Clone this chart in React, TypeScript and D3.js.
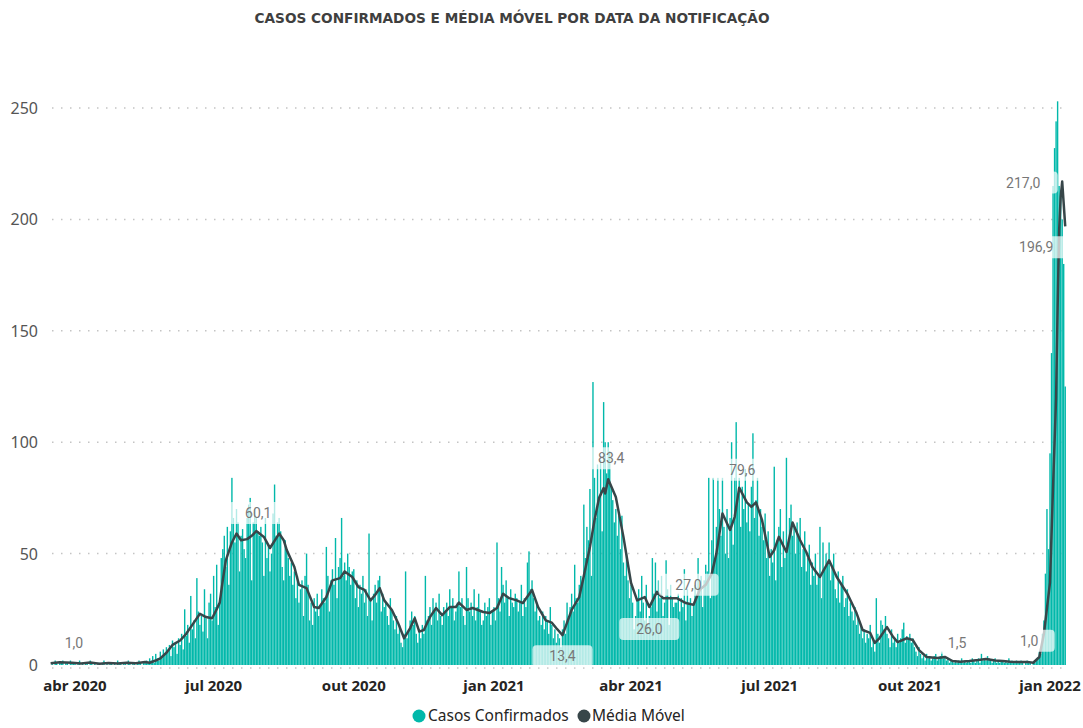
import * as d3 from "d3";

// daily confirmed cases, one array per month (first month starts on the 16th)
const monthStarts = [
  "2020-03-16", "2020-04-01", "2020-05-01", "2020-06-01", "2020-07-01", "2020-08-01",
  "2020-09-01", "2020-10-01", "2020-11-01", "2020-12-01", "2021-01-01", "2021-02-01",
  "2021-03-01", "2021-04-01", "2021-05-01", "2021-06-01", "2021-07-01", "2021-08-01",
  "2021-09-01", "2021-10-01", "2021-11-01", "2021-12-01", "2022-01-01",
];

const mar20 = [0, 1, 0, 2, 1, 0, 1, 1, 2, 0, 1, 1, 0, 2, 1, 1];
const apr20 = [1, 0, 1, 2, 0, 1, 0, 1, 1, 0, 2, 1, 0, 1, 0, 1, 1, 0, 1, 2, 0, 1, 0, 1, 1, 0, 1, 0, 2, 1];
const may20 = [1, 0, 1, 1, 0, 2, 1, 0, 1, 1, 0, 1, 2, 1, 0, 1, 1, 2, 1, 3, 2, 4, 1, 5, 3, 2, 6, 4, 7, 5, 8];
const jun20 = [6, 9, 4, 11, 8, 10, 5, 12, 9, 14, 7, 25, 13, 18, 10, 31, 16, 20, 12, 39, 24, 18, 22, 15, 34, 21, 12, 28, 32, 20];
const jul20 = [40, 26, 45, 18, 30, 48, 52, 58, 44, 62, 36, 60, 84, 66, 55, 70, 64, 42, 58, 61, 52, 48, 66, 72, 75, 38, 64, 70, 66, 60, 58];
const aug20 = [62, 55, 40, 66, 48, 54, 42, 50, 68, 81, 58, 64, 66, 60, 44, 38, 56, 52, 48, 40, 46, 36, 42, 30, 40, 28, 34, 38, 22, 40, 50];
const sep20 = [36, 20, 28, 18, 30, 24, 32, 22, 26, 34, 30, 28, 53, 40, 24, 38, 43, 36, 57, 30, 44, 48, 66, 40, 46, 38, 50, 44, 36, 42];
const oct20 = [43, 30, 38, 26, 36, 32, 40, 28, 34, 22, 59, 30, 20, 32, 36, 28, 38, 40, 24, 32, 26, 28, 22, 18, 30, 24, 20, 16, 22, 14, 18];
const nov20 = [10, 8, 14, 42, 12, 16, 20, 24, 18, 22, 14, 10, 16, 12, 18, 14, 40, 20, 22, 26, 18, 30, 24, 28, 20, 32, 22, 18, 26, 24];
const dec20 = [28, 22, 34, 26, 30, 20, 24, 28, 42, 26, 30, 22, 18, 44, 30, 24, 28, 22, 34, 20, 26, 32, 24, 18, 20, 28, 22, 26, 30, 18, 24];
const jan21 = [26, 20, 55, 30, 24, 44, 36, 28, 38, 30, 22, 34, 28, 26, 32, 30, 24, 28, 36, 22, 30, 26, 46, 51, 34, 38, 30, 24, 28, 20, 22];
const feb21 = [18, 24, 16, 22, 20, 14, 26, 18, 12, 16, 10, 14, 12, 8, 16, 20, 14, 28, 22, 26, 32, 24, 45, 30, 28, 36, 40, 38];
const mar21 = [72, 48, 62, 56, 79, 40, 127, 84, 66, 90, 74, 92, 60, 118, 100, 86, 100, 96, 80, 74, 64, 70, 58, 67, 52, 67, 46, 40, 50, 38, 30];
const apr21 = [36, 28, 16, 22, 30, 34, 24, 40, 28, 20, 36, 18, 22, 26, 48, 32, 46, 24, 38, 30, 40, 22, 28, 47, 34, 18, 36, 30, 26, 28];
const may21 = [28, 32, 24, 30, 26, 43, 20, 34, 28, 30, 22, 27, 36, 30, 48, 34, 40, 26, 38, 45, 42, 84, 30, 56, 84, 48, 62, 84, 70, 58, 84];
const jun21 = [62, 50, 70, 48, 66, 100, 54, 84, 109, 76, 84, 62, 80, 70, 88, 64, 72, 60, 80, 104, 66, 74, 84, 58, 70, 62, 56, 68, 48, 60];
const jul21 = [40, 52, 46, 89, 38, 56, 62, 70, 44, 60, 48, 93, 54, 66, 72, 58, 62, 50, 64, 58, 66, 44, 52, 60, 42, 48, 54, 36, 46, 40, 50];
const aug21 = [36, 40, 62, 30, 55, 44, 50, 46, 55, 38, 44, 50, 34, 30, 42, 28, 36, 40, 26, 30, 34, 22, 28, 24, 20, 26, 18, 22, 14, 18, 12];
const sep21 = [16, 10, 14, 12, 18, 8, 12, 6, 30, 14, 10, 20, 18, 16, 22, 14, 12, 8, 16, 10, 12, 8, 14, 10, 12, 16, 19, 10, 13, 12];
const oct21 = [14, 10, 12, 8, 6, 4, 8, 5, 3, 4, 2, 5, 3, 4, 2, 3, 4, 5, 2, 3, 4, 6, 3, 4, 2, 3, 1, 2, 2, 1, 2];
const nov21 = [1, 2, 1, 3, 1, 2, 1, 2, 2, 1, 3, 2, 1, 2, 3, 1, 5, 2, 3, 2, 4, 3, 2, 1, 2, 3, 1, 2, 1, 2];
const dec21 = [2, 1, 2, 1, 3, 1, 2, 1, 1, 2, 1, 1, 2, 1, 0, 1, 2, 1, 1, 0, 1, 1, 2, 3, 6, 5, 14, 20, 41, 70, 52];
const jan22 = [95, 140, 215, 232, 244, 253, 215, 213, 200, 180, 125];

const casesByMonth = [
  mar20, apr20, may20, jun20, jul20, aug20, sep20, oct20, nov20, dec20,
  jan21, feb21, mar21, apr21, may21, jun21, jul21, aug21, sep21, oct21, nov21, dec21,
  jan22,
];

// moving average
const maDates = [
  "2020-03-16", "2020-03-22", "2020-03-30", "2020-04-05", "2020-04-11", "2020-04-17", "2020-04-23",
  "2020-04-29", "2020-05-05", "2020-05-11", "2020-05-17", "2020-05-20", "2020-05-24", "2020-05-27",
  "2020-05-31", "2020-06-04", "2020-06-09", "2020-06-13", "2020-06-18", "2020-06-22", "2020-06-26",
  "2020-06-30", "2020-07-03", "2020-07-05", "2020-07-07", "2020-07-09", "2020-07-13", "2020-07-16",
  "2020-07-19", "2020-07-23", "2020-07-26", "2020-07-29", "2020-08-03", "2020-08-07", "2020-08-13",
  "2020-08-16", "2020-08-18", "2020-08-23", "2020-08-26", "2020-08-31", "2020-09-05", "2020-09-08",
  "2020-09-13", "2020-09-17", "2020-09-22", "2020-09-25", "2020-09-30", "2020-10-04", "2020-10-08",
  "2020-10-12", "2020-10-15", "2020-10-18", "2020-10-21", "2020-10-26", "2020-10-30", "2020-11-03",
  "2020-11-07", "2020-11-10", "2020-11-13", "2020-11-16", "2020-11-20", "2020-11-24", "2020-11-28",
  "2020-12-03", "2020-12-07", "2020-12-09", "2020-12-14", "2020-12-18", "2020-12-25", "2020-12-29",
  "2021-01-03", "2021-01-07", "2021-01-11", "2021-01-16", "2021-01-20", "2021-01-26", "2021-01-30",
  "2021-02-04", "2021-02-08", "2021-02-11", "2021-02-15", "2021-02-18", "2021-02-21", "2021-02-26",
  "2021-03-01", "2021-03-05", "2021-03-08", "2021-03-11", "2021-03-14", "2021-03-15", "2021-03-17",
  "2021-03-22", "2021-03-27", "2021-04-01", "2021-04-05", "2021-04-10", "2021-04-13", "2021-04-18",
  "2021-04-22", "2021-04-26", "2021-05-01", "2021-05-07", "2021-05-12", "2021-05-16", "2021-05-20",
  "2021-05-24", "2021-05-27", "2021-05-31", "2021-06-05", "2021-06-08", "2021-06-11", "2021-06-16",
  "2021-06-19", "2021-06-22", "2021-06-26", "2021-07-01", "2021-07-04", "2021-07-07", "2021-07-12",
  "2021-07-16", "2021-07-21", "2021-07-25", "2021-07-29", "2021-08-03", "2021-08-09", "2021-08-14",
  "2021-08-21", "2021-08-27", "2021-08-31", "2021-09-05", "2021-09-08", "2021-09-11", "2021-09-16",
  "2021-09-20", "2021-09-23", "2021-09-29", "2021-10-03", "2021-10-07", "2021-10-12", "2021-10-19",
  "2021-10-24", "2021-10-29", "2021-11-03", "2021-11-09", "2021-11-15", "2021-11-20", "2021-11-26",
  "2021-12-01", "2021-12-06", "2021-12-12", "2021-12-17", "2021-12-21", "2021-12-25", "2021-12-28",
  "2022-01-01", "2022-01-03", "2022-01-05", "2022-01-06", "2022-01-07", "2022-01-08", "2022-01-09",
  "2022-01-10", "2022-01-11",
];
const maValues = [
  0.8, 1.2, 1.0, 0.7, 1.1, 0.6, 0.9,
  0.7, 1.0, 0.8, 1.3, 1.0, 2.0, 3.0,
  5.5, 9, 11, 14, 19, 23, 21.5,
  21, 25, 28, 38, 47, 55, 59,
  56, 56.5, 58, 60.1, 57.5, 52.5, 59,
  56, 51.6, 44, 36, 34.5, 26, 25.6,
  30.5, 38, 39, 42, 39.5, 35, 33.7,
  29, 31.4, 34.5, 29, 24.7, 19, 12,
  16.6, 21, 15, 15.7, 21.5, 25.6, 22.4,
  26, 26, 28, 24.7, 25.6, 23.8, 23.3,
  25.6, 32, 30, 29, 27.8, 33.7, 26,
  20, 19, 16.5, 13.4, 19, 24.7, 30.5,
  40, 53, 65, 75, 79.4, 77, 83.4,
  75.4, 57.5, 36.8, 29, 30.5, 26, 32.8,
  30, 30, 30, 27.8, 27, 33.7, 36,
  41, 50, 68, 60.6, 66.4, 79.6, 73,
  71, 73, 65, 48.5, 51.6, 57.5, 50.7,
  64, 56, 50.7, 44, 39.5, 47, 39.5,
  32, 23.3, 15.7, 14.4, 9.9, 12, 17,
  12.6, 10.3, 12, 11.2, 6.7, 3.6, 3.1,
  3.6, 1.8, 1.5, 1.8, 2.2, 2.7, 2.0,
  1.8, 1.5, 1.3, 1.4, 1.0, 3.6, 14,
  37, 80, 120, 160, 195, 210, 217,
  207, 196.9,
];

// data labels shown on the moving average
const labelDates = [
  "2020-03-30", "2020-07-29", "2021-02-15", "2021-03-17", "2021-04-13", "2021-05-12",
  "2021-06-11", "2021-11-03", "2021-12-21", "2022-01-09", "2022-01-11",
];
const labelTexts = ["1,0", "60,1", "13,4", "83,4", "26,0", "27,0", "79,6", "1,5", "1,0", "217,0", "196,9"];
// label placement relative to its point (pixels)
const labelOffsets = [
  [2, -20], [2, -18], [0, 21], [3, -21], [0, 22], [-5, -20],
  [3, -18], [-3, -19], [-4, -22], [-39, 1], [-29, 21],
];

const xTickDates = ["2020-04-01", "2020-07-01", "2020-10-01", "2021-01-01", "2021-04-01", "2021-07-01", "2021-10-01", "2022-01-01"];
const xTickLabels = ["abr 2020", "jul 2020", "out 2020", "jan 2021", "abr 2021", "jul 2021", "out 2021", "jan 2022"];
const yTicks = [0, 50, 100, 150, 200, 250];

const TEAL = "#01B8AA";
const DARK = "#374649";

export default function App() {
  const width = 1083;
  const height = 728;
  const parse = d3.utcParse("%Y-%m-%d");

  const x = d3
    .scaleUtc()
    .domain([parse("2020-04-01")!, parse("2022-01-01")!])
    .range([75, 1050]);
  const y = d3.scaleLinear().domain([0, 250]).range([665, 108]);

  const daily: { date: Date; value: number }[] = [];
  casesByMonth.forEach((arr, i) => {
    const start = parse(monthStarts[i])!;
    arr.forEach((v, j) => daily.push({ date: d3.utcDay.offset(start, j), value: v }));
  });

  const step = x(parse("2020-04-02")!) - x(parse("2020-04-01")!);
  const barW = step * 0.92;

  const ma = maDates.map((d, i) => ({ date: parse(d)!, value: maValues[i] }));
  const line = d3
    .line<{ date: Date; value: number }>()
    .x((d) => x(d.date))
    .y((d) => y(d.value));

  const gridLeft = 52;
  const gridRight = 1068;

  return (
    <svg
      width={width}
      height={height}
      style={{ position: "absolute", left: 0, top: 0, background: "#fff" }}
    >
      <text
        x={512}
        y={23}
        textAnchor="middle"
        fontFamily="'DejaVu Sans Condensed', 'DejaVu Sans', sans-serif"
        fontWeight="bold"
        fontSize={14}
        fill="#3f3f3f"
        textLength={515}
        lengthAdjust="spacingAndGlyphs"
      >
        CASOS CONFIRMADOS E MÉDIA MÓVEL POR DATA DA NOTIFICAÇÃO
      </text>

      <g className="grid">
        {yTicks
          .filter((t) => t > 0)
          .map((t) => (
            <line
              key={t}
              x1={gridLeft}
              x2={gridRight}
              y1={y(t)}
              y2={y(t)}
              stroke="#c4c4c4"
              strokeWidth={1.5}
              strokeDasharray="1.5 7.5"
            />
          ))}
        <line
          x1={gridLeft}
          x2={gridRight}
          y1={668}
          y2={668}
          stroke="#c4c4c4"
          strokeWidth={1.5}
          strokeDasharray="1.5 7.5"
        />
      </g>

      <g className="y-axis">
        {yTicks.map((t) => (
          <text
            key={t}
            x={38}
            y={y(t) + 6}
            textAnchor="end"
            fontFamily="'Noto Sans', sans-serif"
            fontSize={16}
            fill="#555"
          >
            {t}
          </text>
        ))}
      </g>

      <g className="x-axis">
        {xTickDates.map((d, i) => (
          <text
            key={d}
            x={x(parse(d)!)}
            y={691}
            textAnchor="middle"
            fontFamily="'Noto Sans', sans-serif"
            fontWeight="bold"
            fontSize={15}
            fill="#252423"
          >
            {xTickLabels[i]}
          </text>
        ))}
      </g>

      <g className="bars">
        {daily.map((d, i) => (
          <rect
            key={i}
            x={x(d.date) - barW / 2}
            y={y(d.value)}
            width={barW}
            height={y(0) - y(d.value)}
            fill={TEAL}
          />
        ))}
      </g>

      <path
        d={line(ma) ?? ""}
        fill="none"
        stroke={DARK}
        strokeWidth={2.5}
        strokeLinejoin="round"
      />

      <g className="labels">
        {labelDates.map((d, i) => {
          const v = maValues[maDates.indexOf(d)];
          const cx = x(parse(d)!) + labelOffsets[i][0];
          const cy = y(v) + labelOffsets[i][1];
          const bw = labelTexts[i].length * 9 + 24;
          return (
            <g key={i}>
              <rect
                x={cx - bw / 2}
                y={cy - 11}
                width={bw}
                height={22}
                rx={4}
                fill="#fff"
                fillOpacity={0.7}
              />
              <text
                x={cx}
                y={cy + 5}
                textAnchor="middle"
                fontFamily="Roboto, sans-serif"
                fontSize={14}
                fill="#777"
              >
                {labelTexts[i]}
              </text>
            </g>
          );
        })}
      </g>

      <g className="legend" fontFamily="'Noto Sans', sans-serif" fontSize={15.5} fill="#252423">
        <circle cx={419} cy={716} r={6.5} fill={TEAL} />
        <text x={428} y={721}>Casos Confirmados</text>
        <circle cx={584} cy={716} r={6.5} fill={DARK} />
        <text x={592} y={721}>Média Móvel</text>
      </g>
    </svg>
  );
}
